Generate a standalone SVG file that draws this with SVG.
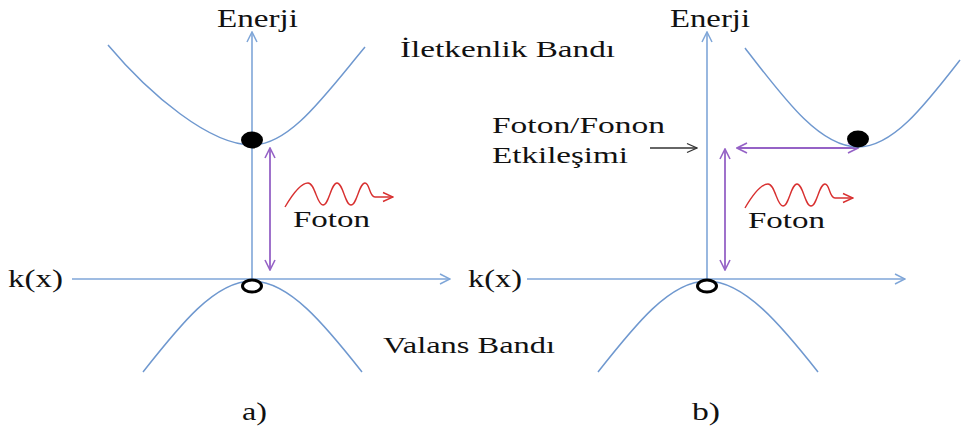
<svg xmlns="http://www.w3.org/2000/svg" width="963" height="430" viewBox="0 0 963 430">
<style>
  text { font-family: "Liberation Serif", "Times New Roman", serif; fill: #111; }
  .t22 { font-size: 23px; }
  .t24 { font-size: 25px; }
  .axis { stroke: #7fa6d8; stroke-width: 1.6; fill: none; }
  .band { stroke: #6f98cf; stroke-width: 1.5; fill: none; }
  .purple { stroke: #9562c6; stroke-width: 1.8; fill: none; }
  .wave { stroke: #d83030; stroke-width: 1.4; fill: none; }
  .blk { stroke: #333; stroke-width: 1.3; fill: none; }
  .hole { fill: #fff; stroke: #000; stroke-width: 3; }
  .elec { fill: #000; }
</style>
<defs>
  <marker id="mBlue" viewBox="0 0 12 12" refX="11" refY="6" markerWidth="12" markerHeight="12" markerUnits="userSpaceOnUse" orient="auto-start-reverse">
    <path d="M1,1 L11,6 L1,11" fill="none" stroke="#7fa6d8" stroke-width="1.5"/>
  </marker>
  <marker id="mPurple" viewBox="0 0 12 12" refX="11" refY="6" markerWidth="12" markerHeight="12" markerUnits="userSpaceOnUse" orient="auto-start-reverse">
    <path d="M1,1 L11,6 L1,11" fill="none" stroke="#9562c6" stroke-width="1.6"/>
  </marker>
  <marker id="mRed" viewBox="0 0 12 12" refX="11" refY="6" markerWidth="12" markerHeight="12" markerUnits="userSpaceOnUse" orient="auto">
    <path d="M1,1.5 L11,6 L1,10.5" fill="none" stroke="#d83030" stroke-width="1.4"/>
  </marker>
  <marker id="mBlack" viewBox="0 0 12 12" refX="11" refY="6" markerWidth="12" markerHeight="12" markerUnits="userSpaceOnUse" orient="auto">
    <path d="M1,1.5 L11,6 L1,10.5" fill="none" stroke="#333" stroke-width="1.3"/>
  </marker>
  <path id="wave" d="M285,207 C295,190 302,183 308,183 C315,183 317,205 323,205 C329,205 331,183 337,183 C343,183 345,205 351,205 C357,205 359,183 365,183 C370,183 369,197 375,197 L393,197"/>
</defs>

<g id="connectors">
  <!-- panel a axes -->
  <line class="axis" x1="72" y1="279" x2="450" y2="279" marker-end="url(#mBlue)"/>
  <line class="axis" x1="252" y1="279" x2="252" y2="32" marker-end="url(#mBlue)"/>
  <!-- panel b axes -->
  <line class="axis" x1="527" y1="279" x2="905" y2="279" marker-end="url(#mBlue)"/>
  <line class="axis" x1="707" y1="279" x2="707" y2="32" marker-end="url(#mBlue)"/>
  <!-- transitions -->
  <line class="purple" x1="270" y1="148" x2="270" y2="270" marker-start="url(#mPurple)" marker-end="url(#mPurple)"/>
  <line class="purple" x1="725" y1="149" x2="725" y2="270" marker-start="url(#mPurple)" marker-end="url(#mPurple)"/>
  <line class="purple" x1="737" y1="148" x2="858" y2="148" marker-start="url(#mPurple)" marker-end="url(#mPurple)"/>
  <line class="blk" x1="650" y1="148" x2="697" y2="148" marker-end="url(#mBlack)"/>
  <!-- photons -->
  <use href="#wave" class="wave" marker-end="url(#mRed)"/>
  <use href="#wave" class="wave" transform="translate(460,1)" marker-end="url(#mRed)"/>
</g>

<g id="conduction-band-a">
  <path class="band" d="M108,45 C150,95 210,145 252,145 C290,145 325,95 365,47"/>
</g>
<g id="valence-band-a">
  <path class="band" d="M143,372 C180,325 215,281 252,281 C289,281 325,325 362,372"/>
</g>
<g id="conduction-band-b">
  <path class="band" d="M745,48 C785,100 820,147 858,147 C893,147 925,105 960,60"/>
</g>
<g id="valence-band-b">
  <path class="band" d="M598,372 C635,325 670,281 707,281 C744,281 781,325 818,372"/>
</g>

<g id="electron-a"><ellipse class="elec" cx="252" cy="140" rx="11" ry="8.5"/></g>
<g id="hole-a"><ellipse class="hole" cx="252" cy="286" rx="9.5" ry="6"/></g>
<g id="electron-b"><ellipse class="elec" cx="858" cy="139" rx="11" ry="8.5"/></g>
<g id="hole-b"><ellipse class="hole" cx="707" cy="286" rx="9.5" ry="6"/></g>

<g id="label-enerji-a"><text class="t24" x="217" y="27" textLength="81" lengthAdjust="spacingAndGlyphs">Enerji</text></g>
<g id="label-enerji-b"><text class="t24" x="670" y="27" textLength="80" lengthAdjust="spacingAndGlyphs">Enerji</text></g>
<g id="label-iletkenlik"><text class="t22" x="400" y="57" textLength="215" lengthAdjust="spacingAndGlyphs">İletkenlik Bandı</text></g>
<g id="label-valans"><text class="t22" x="383" y="353" textLength="172" lengthAdjust="spacingAndGlyphs">Valans Bandı</text></g>
<g id="label-foton-a"><text class="t22" x="293" y="227" textLength="77" lengthAdjust="spacingAndGlyphs">Foton</text></g>
<g id="label-foton-b"><text class="t22" x="748" y="228" textLength="77" lengthAdjust="spacingAndGlyphs">Foton</text></g>
<g id="label-kx-a"><text class="t24" x="8" y="287" textLength="55" lengthAdjust="spacingAndGlyphs">k(x)</text></g>
<g id="label-kx-b"><text class="t24" x="468" y="287" textLength="54" lengthAdjust="spacingAndGlyphs">k(x)</text></g>
<g id="label-etkilesim">
  <text class="t22" x="492" y="133" textLength="173" lengthAdjust="spacingAndGlyphs">Foton/Fonon</text>
  <text class="t22" x="492" y="163" textLength="136" lengthAdjust="spacingAndGlyphs">Etkileşimi</text>
</g>
<g id="label-a"><text class="t24" x="242" y="420" textLength="25" lengthAdjust="spacingAndGlyphs">a)</text></g>
<g id="label-b"><text class="t24" x="692" y="420" textLength="28" lengthAdjust="spacingAndGlyphs">b)</text></g>
</svg>
